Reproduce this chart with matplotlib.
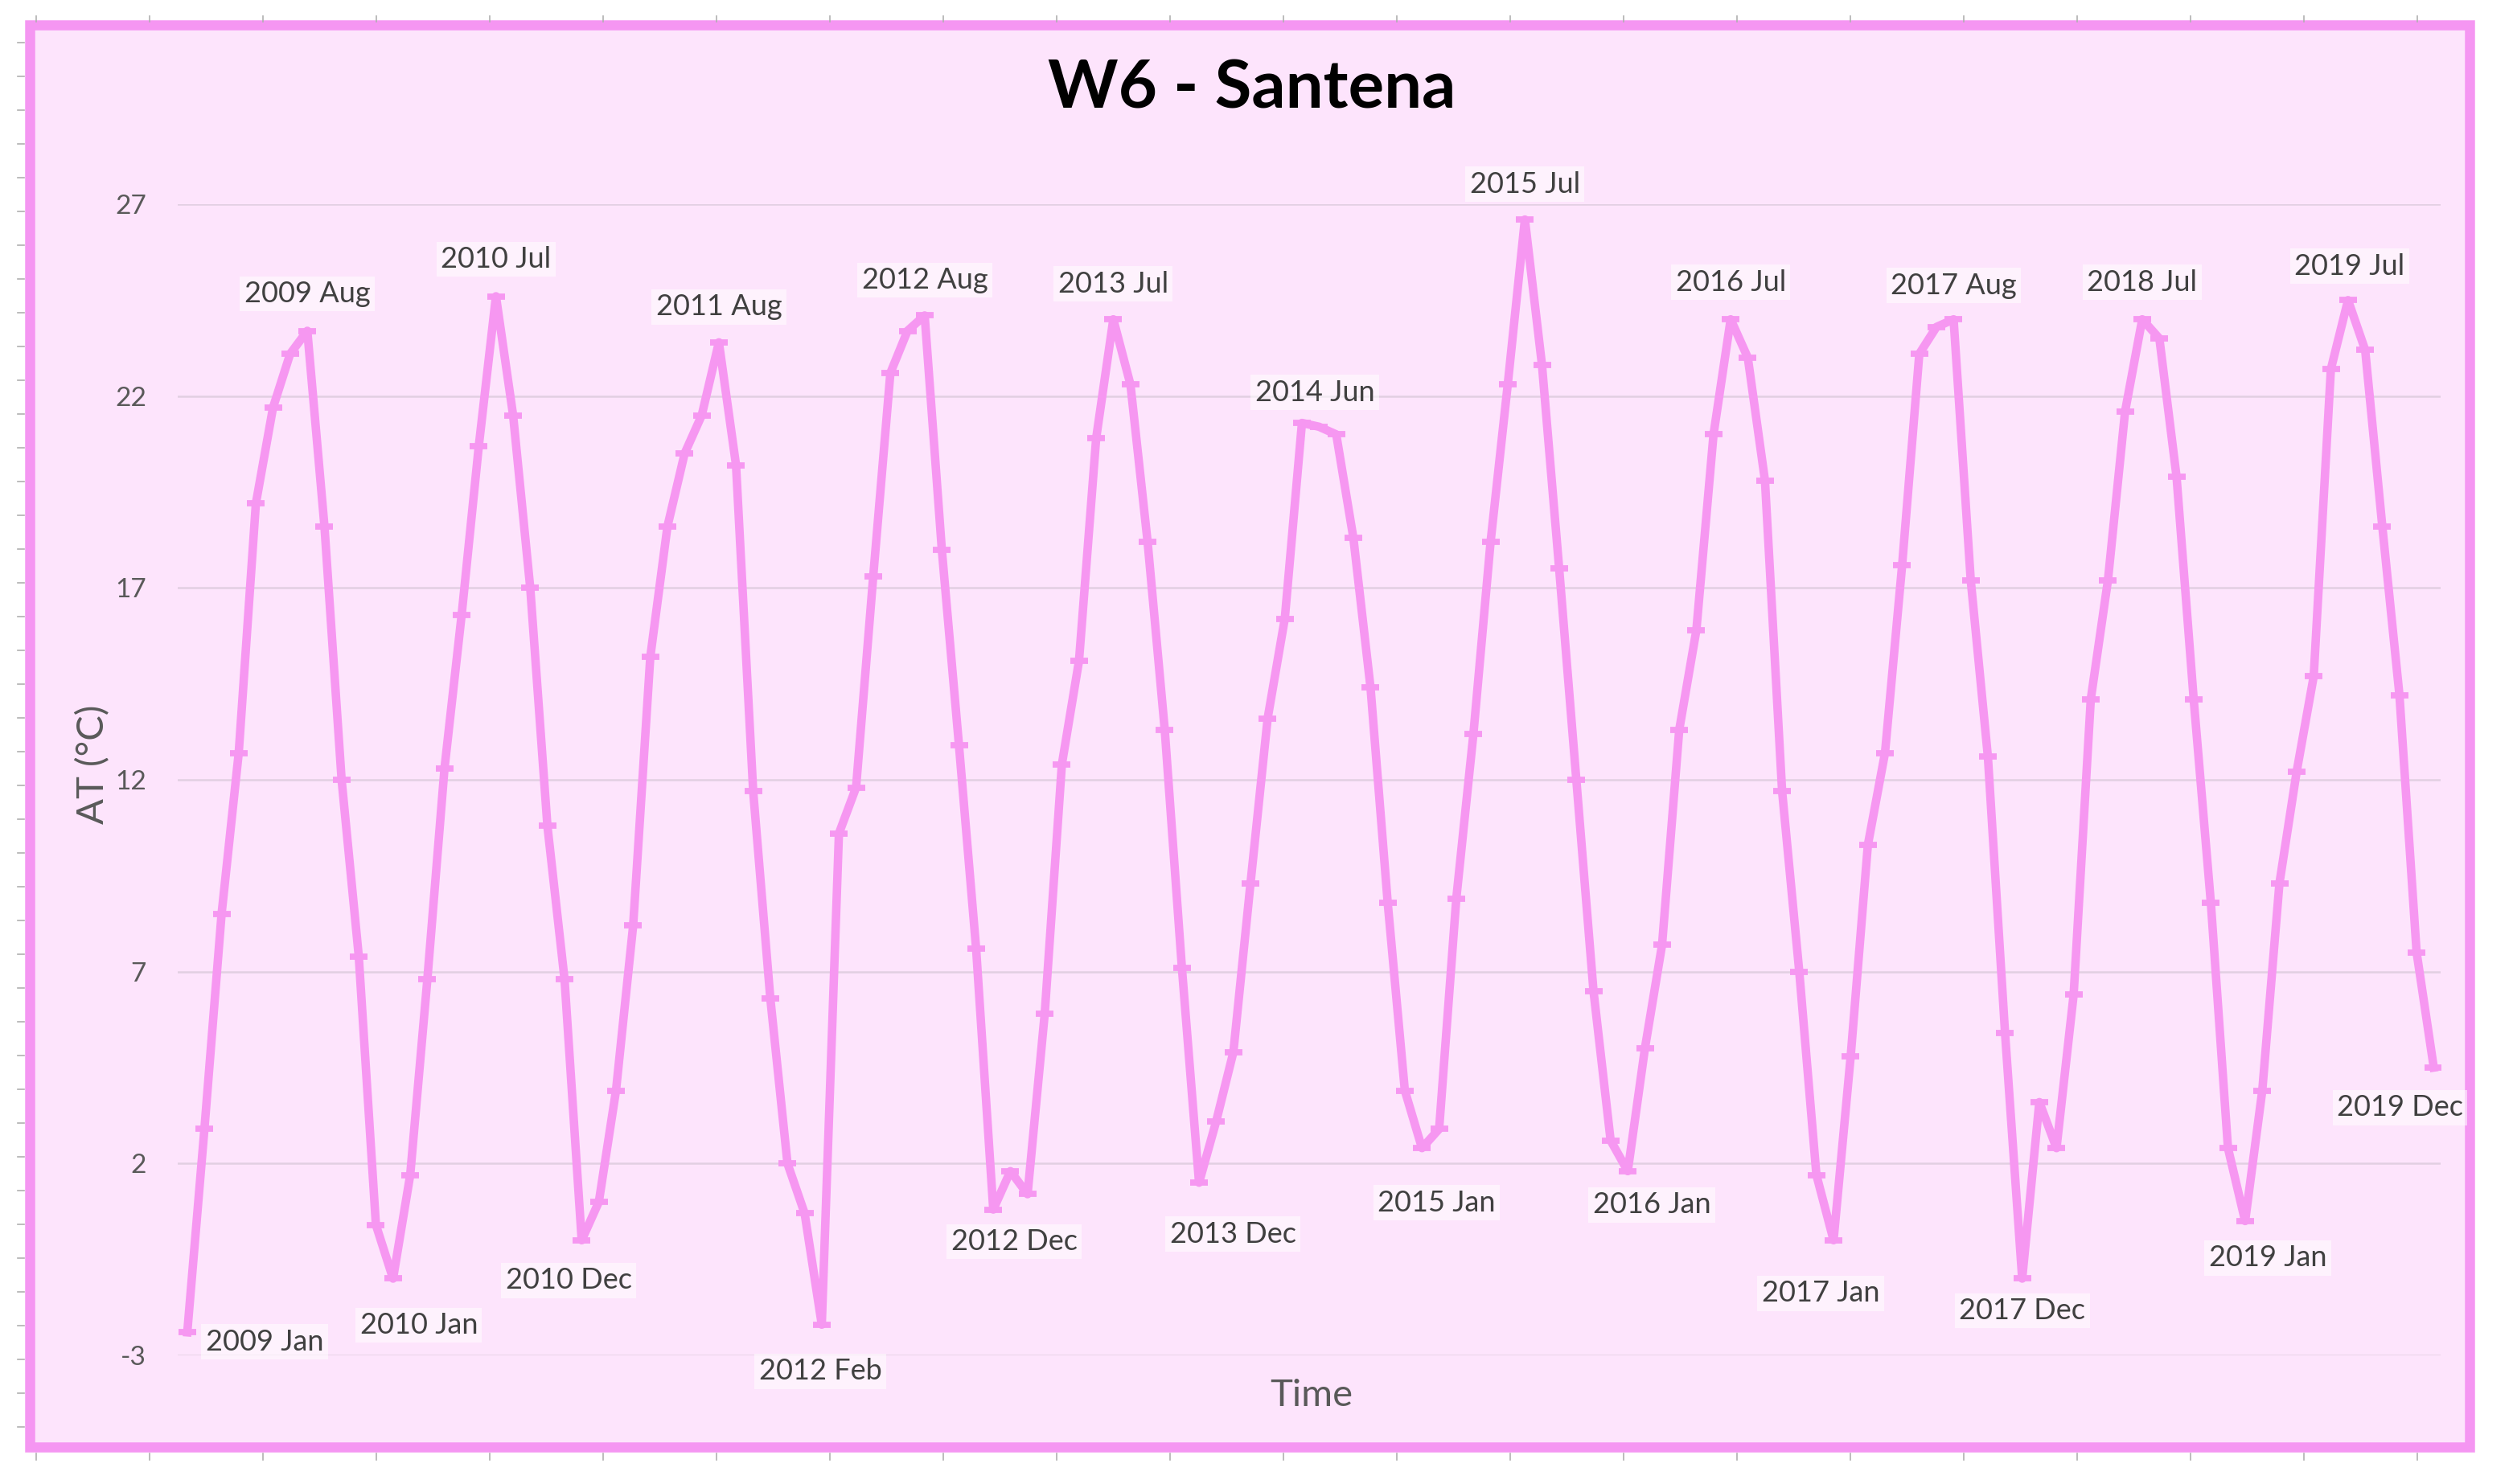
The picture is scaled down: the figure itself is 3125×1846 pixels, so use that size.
import numpy as np
import matplotlib.pyplot as plt
from matplotlib.patches import Rectangle
from matplotlib.lines import Line2D

# monthly air temperature, W6 - Santena
at_2009 = [-2.4, 2.9, 8.5, 12.7, 19.2, 21.7, 23.1, 23.7, 18.6, 12.0, 7.4, 0.4]
at_2010 = [-1.0, 1.7, 6.8, 12.3, 16.3, 20.7, 24.6, 21.5, 17.0, 10.8, 6.8, 0.0]
at_2011 = [1.0, 3.9, 8.2, 15.2, 18.6, 20.5, 21.5, 23.4, 20.2, 11.7, 6.3, 2.0]
at_2012 = [0.7, -2.2, 10.6, 11.8, 17.3, 22.6, 23.7, 24.1, 18.0, 12.9, 7.6, 0.8]
at_2013 = [1.8, 1.2, 5.9, 12.4, 15.1, 20.9, 24.0, 22.3, 18.2, 13.3, 7.1, 1.5]
at_2014 = [3.1, 4.9, 9.3, 13.6, 16.2, 21.3, 21.2, 21.0, 18.3, 14.4, 8.8, 3.9]
at_2015 = [2.4, 2.9, 8.9, 13.2, 18.2, 22.3, 26.6, 22.8, 17.5, 12.0, 6.5, 2.6]
at_2016 = [1.8, 5.0, 7.7, 13.3, 15.9, 21.0, 24.0, 23.0, 19.8, 11.7, 7.0, 1.7]
at_2017 = [0.0, 4.8, 10.3, 12.7, 17.6, 23.1, 23.8, 24.0, 17.2, 12.6, 5.4, -1.0]
at_2018 = [3.6, 2.4, 6.4, 14.1, 17.2, 21.6, 24.0, 23.5, 19.9, 14.1, 8.8, 2.4]
at_2019 = [0.5, 3.9, 9.3, 12.2, 14.7, 22.7, 24.5, 23.2, 18.6, 14.2, 7.5, 4.5]

years = list(range(2009, 2020))
month_names = ['Jan', 'Feb', 'Mar', 'Apr', 'May', 'Jun',
               'Jul', 'Aug', 'Sep', 'Oct', 'Nov', 'Dec']
yticks = [-3, 2, 7, 12, 17, 22, 27]

# labelled extremes and where each label sits relative to its point (px)
labelled = ['2009 Jan', '2009 Aug', '2010 Jan', '2010 Jul', '2010 Dec', '2011 Aug',
            '2012 Feb', '2012 Aug', '2012 Dec', '2013 Jul', '2013 Dec', '2014 Jun',
            '2015 Jan', '2015 Jul', '2016 Jan', '2016 Jul', '2017 Jan', '2017 Aug',
            '2017 Dec', '2018 Jul', '2019 Jan', '2019 Jul', '2019 Dec']
label_off = [(48, 6), (0, -23), (16, 29), (0, -23), (-8, 25), (0, -22),
             (-1, 29), (0, -22), (13, 20), (0, -22), (21, 32), (8, -19),
             (9, 34), (0, -22), (15, 21), (0, -23), (-8, 33), (0, -21),
             (0, 20), (0, -23), (14, 23), (1, -21), (-21, 25)]

at = np.array(at_2009 + at_2010 + at_2011 + at_2012 + at_2013 + at_2014 +
              at_2015 + at_2016 + at_2017 + at_2018 + at_2019)
names = [f'{y} {m}' for y in years for m in month_names]
x = np.arange(len(at))

line_col = '#F697F1'
frame_col = '#F596F2'
bg_col = '#FDE4FC'
text_col = '#404040'

plt.rcParams['font.family'] = ['Lato', 'DejaVu Sans']
plt.rcParams['axes.unicode_minus'] = False

fig = plt.figure(figsize=(15.625, 9.23), dpi=200)

# pink frame around the whole chart
fig.patches.append(Rectangle((0.0118, 0.0249), 0.9709, 0.9583, transform=fig.transFigure,
                             facecolor=bg_col, edgecolor=frame_col, lw=4.5, zorder=-1))

# faint ruler ticks outside the frame (screenshot edge)
for px in np.arange(45, 3100, 141):
    fig.add_artist(Line2D([px / 3125] * 2, [1 - 20 / 1846, 1 - 27 / 1846],
                          color='#b0b0b0', lw=0.6))
    fig.add_artist(Line2D([px / 3125] * 2, [1 - 1808 / 1846, 1 - 1816 / 1846],
                          color='#b0b0b0', lw=0.6))
for py in np.arange(53, 1800, 42):
    fig.add_artist(Line2D([22 / 3125, 30 / 3125], [1 - py / 1846] * 2,
                          color='#b0b0b0', lw=0.6))

ax = fig.add_axes([0.0707, 0.0867, 0.9005, 0.7757])
ax.patch.set_alpha(0)
ax.set_zorder(2)

ax.plot(x, at, color=line_col, lw=3.8, marker='_', markersize=8, mew=2.8,
        solid_joinstyle='round', zorder=3)

for name, (dx, dy) in zip(labelled, label_off):
    i = names.index(name)
    ax.annotate(name, (x[i], at[i]), xytext=(2 * dx, -2 * dy),
                textcoords='offset pixels', ha='center', va='center',
                fontsize=13, color=text_col, annotation_clip=False,
                bbox=dict(boxstyle='square,pad=0.15', fc='white', ec='none', alpha=0.55),
                zorder=4)

ax.set_xlim(-0.56, len(at) - 1 + 0.4)
ax.set_ylim(-3, 27)
ax.set_yticks(yticks)
ax.set_xticks([])
ax.grid(axis='y', color='#e2cfe2', lw=0.9)
ax.set_axisbelow(True)
ax.tick_params(axis='y', length=0, labelsize=12, labelcolor='#595959', pad=14)
for s in ax.spines.values():
    s.set_visible(False)

fig.text(0.498, 0.940, 'W6 - Santena', ha='center', va='center',
         fontsize=30, fontweight='bold', color='black')
fig.text(0.037, 0.485, 'AT (°C)', rotation=90, ha='center', va='center',
         fontsize=17, color='#595959')
fig.text(0.522, 0.0596, 'Time', ha='center', va='center',
         fontsize=17, color='#595959')

fig.savefig('out.png', dpi=200, facecolor='white')
